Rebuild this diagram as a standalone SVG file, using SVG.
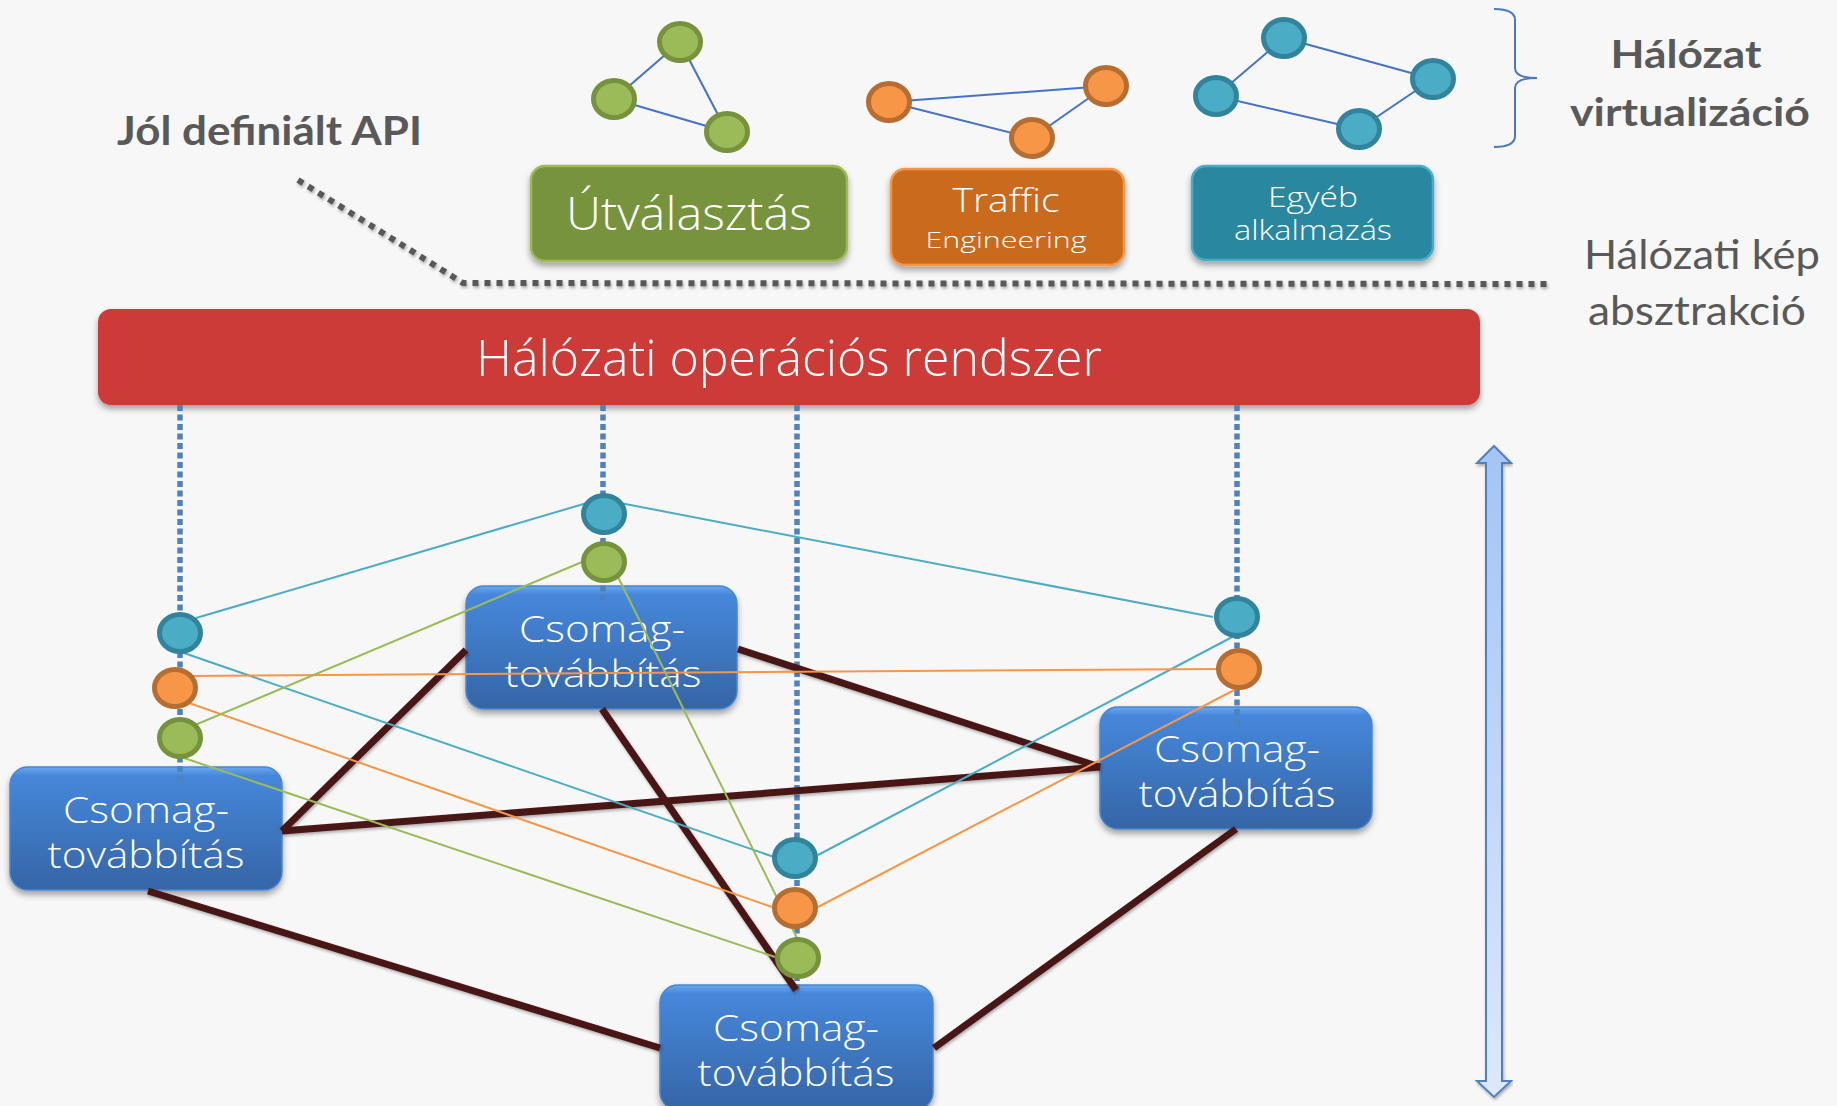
<svg xmlns="http://www.w3.org/2000/svg" width="1837" height="1106" viewBox="0 0 1837 1106">
<style>
.lbl{font-family:Lato,"Liberation Sans",sans-serif;fill:#595959}
.bt{font-family:"Open Sans","Liberation Sans",sans-serif;font-weight:300;fill:#ffffff;text-anchor:middle}
.mini{stroke:#4472c4;stroke-width:2;fill:none}
.vdot{stroke:#4f81bd;stroke-width:5.5;stroke-dasharray:6 3.5;fill:none}
.brown{stroke:#4a1719;stroke-width:7;fill:none}
.tl{stroke:#4bacc6;stroke-width:2;fill:none}
.ol{stroke:#f79646;stroke-width:2;fill:none}
.gl{stroke:#9bbb59;stroke-width:2;fill:none}
.nt{fill:#4bacc6;stroke:#31849b;stroke-width:5}
.no{fill:#f79646;stroke:#b66d31;stroke-width:5}
.ng{fill:#9bbb59;stroke:#76923c;stroke-width:5}
.csomag{fill:url(#blueGrad);stroke:#4a86d0;stroke-width:1.5}
</style>
<defs>
<filter id="sh" x="-10%" y="-10%" width="120%" height="130%">
<feDropShadow dx="0" dy="4" stdDeviation="3" flood-color="#000" flood-opacity="0.35"/>
</filter>
<filter id="sh2" x="-5%" y="-5%" width="110%" height="120%">
<feDropShadow dx="1" dy="2" stdDeviation="1.5" flood-color="#000" flood-opacity="0.3"/>
</filter>
<linearGradient id="blueGrad" x1="0" y1="0" x2="0" y2="1">
<stop offset="0" stop-color="#6aa8f0"/>
<stop offset="0.07" stop-color="#4687da"/>
<stop offset="1" stop-color="#3565a6"/>
</linearGradient>
<linearGradient id="arrGrad" x1="0" y1="0" x2="0" y2="1">
<stop offset="0" stop-color="#a3c4f5"/>
<stop offset="1" stop-color="#dde8fb"/>
</linearGradient>
</defs>
<rect width="1837" height="1106" fill="#f7f7f7"/>

<!-- top app mini graphs -->
<g id="graph-routing">
<line class="mini" x1="680" y1="42" x2="614" y2="99"/>
<line class="mini" x1="680" y1="42" x2="727" y2="132"/>
<line class="mini" x1="614" y1="99" x2="727" y2="132"/>
<ellipse class="ng" cx="680" cy="42" rx="20.5" ry="18.5"/>
<ellipse class="ng" cx="614" cy="99" rx="20.5" ry="18.5"/>
<ellipse class="ng" cx="727" cy="132" rx="20.5" ry="18.5"/>
</g>
<g id="graph-te">
<line class="mini" x1="889" y1="102" x2="1106" y2="86"/>
<line class="mini" x1="889" y1="102" x2="1032" y2="138"/>
<line class="mini" x1="1032" y1="138" x2="1106" y2="86"/>
<ellipse class="no" cx="889" cy="102" rx="20.5" ry="18.5"/>
<ellipse class="no" cx="1106" cy="86" rx="20.5" ry="18.5"/>
<ellipse class="no" cx="1032" cy="138" rx="20.5" ry="18.5"/>
</g>
<g id="graph-other">
<line class="mini" x1="1284" y1="38" x2="1433" y2="79"/>
<line class="mini" x1="1284" y1="38" x2="1216" y2="96"/>
<line class="mini" x1="1216" y1="96" x2="1359" y2="129"/>
<line class="mini" x1="1359" y1="129" x2="1433" y2="79"/>
<ellipse class="nt" cx="1284" cy="38" rx="20.5" ry="18.5"/>
<ellipse class="nt" cx="1216" cy="96" rx="20.5" ry="18.5"/>
<ellipse class="nt" cx="1433" cy="79" rx="20.5" ry="18.5"/>
<ellipse class="nt" cx="1359" cy="129" rx="20.5" ry="18.5"/>
</g>

<!-- brace and labels -->
<g id="brace">
<path d="M1494,9 Q1515,9 1515,20 L1515,68 Q1515,78 1537,78 Q1515,78 1515,88 L1515,136 Q1515,147 1494,147" fill="none" stroke="#4a78c2" stroke-width="2"/>
</g>
<g id="label-virt">
<text class="lbl" x="1686" y="68" font-size="39" font-weight="bold" text-anchor="middle" textLength="151" lengthAdjust="spacingAndGlyphs">Hálózat</text>
<text class="lbl" x="1690" y="126" font-size="39" font-weight="bold" text-anchor="middle" textLength="240" lengthAdjust="spacingAndGlyphs">virtualizáció</text>
</g>
<g id="label-api">
<text class="lbl" x="117" y="145" font-size="40" font-weight="bold" textLength="305" lengthAdjust="spacingAndGlyphs">Jól definiált API</text>
</g>
<g id="label-abstr">
<text class="lbl" x="1702" y="269" font-size="41" text-anchor="middle" textLength="236" lengthAdjust="spacingAndGlyphs">Hálózati kép</text>
<text class="lbl" x="1697" y="325" font-size="41" text-anchor="middle" textLength="218" lengthAdjust="spacingAndGlyphs">absztrakció</text>
</g>

<!-- API dotted line -->
<g id="api-line">
<path d="M298,180 L463,283 L1552,284" fill="none" stroke="#595959" stroke-width="6" stroke-dasharray="6 6" filter="url(#sh2)"/>
</g>

<!-- app boxes -->
<g id="app-routing">
<rect x="531" y="166" width="316" height="95" rx="14" fill="#77933c" stroke="#9bbb59" stroke-width="2.5" filter="url(#sh)"/>
<text class="bt" x="689" y="230" font-size="46" textLength="246" lengthAdjust="spacingAndGlyphs">Útválasztás</text>
</g>
<g id="app-te">
<rect x="891" y="169" width="233" height="96" rx="14" fill="#ca6a1d" stroke="#f79646" stroke-width="2.5" filter="url(#sh)"/>
<text class="bt" x="1006" y="212" font-size="33" textLength="107" lengthAdjust="spacingAndGlyphs">Traffic</text>
<text class="bt" x="1006" y="248" font-size="22" textLength="161" lengthAdjust="spacingAndGlyphs">Engineering</text>
</g>
<g id="app-other">
<rect x="1192" y="166" width="241" height="94" rx="14" fill="#2987a0" stroke="#4bacc6" stroke-width="2.5" filter="url(#sh)"/>
<text class="bt" x="1313" y="207" font-size="27" textLength="90" lengthAdjust="spacingAndGlyphs">Egyéb</text>
<text class="bt" x="1313" y="240" font-size="27" textLength="158" lengthAdjust="spacingAndGlyphs">alkalmazás</text>
</g>

<!-- NOS -->
<g id="nos">
<rect x="98" y="309" width="1382" height="96" rx="13" fill="#cc3b38" filter="url(#sh)"/>
<text class="bt" x="789" y="376" font-size="50" textLength="626" lengthAdjust="spacingAndGlyphs">Hálózati operációs rendszer</text>
</g>

<!-- double arrow -->
<g id="scale-arrow">
<path d="M1494,446 L1511,463 L1502,463 L1502,1081 L1511,1081 L1494,1097 L1477,1081 L1486,1081 L1486,463 L1477,463 Z" fill="url(#arrGrad)" stroke="#4f81bd" stroke-width="2" filter="url(#sh2)"/>
</g>

<!-- forwarding boxes -->
<g id="fwd-a">
<rect class="csomag" x="466" y="586" width="271" height="123" rx="18" filter="url(#sh)"/>
<text class="bt" x="602" y="642" font-size="36" textLength="166" lengthAdjust="spacingAndGlyphs">Csomag-</text>
<text class="bt" x="603" y="687" font-size="36" textLength="197" lengthAdjust="spacingAndGlyphs">továbbítás</text>
</g>
<g id="fwd-b">
<rect class="csomag" x="10" y="767" width="272" height="123" rx="18" filter="url(#sh)"/>
<text class="bt" x="146" y="823" font-size="36" textLength="166" lengthAdjust="spacingAndGlyphs">Csomag-</text>
<text class="bt" x="146" y="868" font-size="36" textLength="197" lengthAdjust="spacingAndGlyphs">továbbítás</text>
</g>
<g id="fwd-c">
<rect class="csomag" x="1100" y="707" width="272" height="122" rx="18" filter="url(#sh)"/>
<text class="bt" x="1237" y="762" font-size="36" textLength="166" lengthAdjust="spacingAndGlyphs">Csomag-</text>
<text class="bt" x="1237" y="807" font-size="36" textLength="197" lengthAdjust="spacingAndGlyphs">továbbítás</text>
</g>
<g id="fwd-d">
<rect class="csomag" x="660" y="985" width="273" height="125" rx="18" filter="url(#sh)"/>
<text class="bt" x="796" y="1041" font-size="36" textLength="166" lengthAdjust="spacingAndGlyphs">Csomag-</text>
<text class="bt" x="796" y="1086" font-size="36" textLength="197" lengthAdjust="spacingAndGlyphs">továbbítás</text>
</g>

<!-- connectors -->
<g id="connectors">
<g id="control-links">
<line class="vdot" x1="180" y1="405" x2="180" y2="783"/>
<line class="vdot" x1="603" y1="405" x2="603" y2="600"/>
<line class="vdot" x1="797" y1="405" x2="797" y2="995"/>
<line class="vdot" x1="1237" y1="405" x2="1237" y2="725"/>
</g>
<g id="physical-links" filter="url(#sh2)">
<line class="brown" x1="282" y1="831" x2="1100" y2="767"/>
<line class="brown" x1="282" y1="831" x2="466" y2="650"/>
<line class="brown" x1="738" y1="649" x2="1100" y2="767"/>
<line class="brown" x1="602" y1="709" x2="796" y2="990"/>
<line class="brown" x1="148" y1="891" x2="660" y2="1048"/>
<line class="brown" x1="1236" y1="829" x2="934" y2="1048"/>
</g>
<g id="virtual-links">
<line class="tl" x1="587" y1="503" x2="196" y2="618"/>
<line class="tl" x1="620" y1="503" x2="1213" y2="617"/>
<line class="tl" x1="181" y1="652" x2="774" y2="857"/>
<line class="tl" x1="1236" y1="635" x2="818" y2="855"/>
<line class="ol" x1="189" y1="676" x2="1218" y2="669"/>
<line class="ol" x1="189" y1="703" x2="772" y2="907"/>
<line class="ol" x1="1240" y1="687" x2="818" y2="907"/>
<line class="gl" x1="582" y1="562" x2="195" y2="725"/>
<line class="gl" x1="617" y1="575" x2="798" y2="940"/>
<line class="gl" x1="181" y1="757" x2="775" y2="957"/>
</g>
</g>

<!-- virtual nodes on switches -->
<g id="vnodes-b">
<ellipse class="nt" cx="180" cy="633" rx="20.5" ry="18.5"/>
<ellipse class="no" cx="175" cy="688" rx="20.5" ry="18.5"/>
<ellipse class="ng" cx="180" cy="738" rx="20.5" ry="18.5"/>
</g>
<g id="vnodes-a">
<ellipse class="nt" cx="604" cy="514" rx="20.5" ry="18.5"/>
<ellipse class="ng" cx="604" cy="562" rx="20.5" ry="18.5"/>
</g>
<g id="vnodes-d">
<ellipse class="nt" cx="795" cy="858" rx="20.5" ry="18.5"/>
<ellipse class="no" cx="795" cy="908" rx="20.5" ry="18.5"/>
<ellipse class="ng" cx="798" cy="958" rx="20.5" ry="18.5"/>
</g>
<g id="vnodes-c">
<ellipse class="nt" cx="1237" cy="617" rx="20.5" ry="18.5"/>
<ellipse class="no" cx="1239" cy="669" rx="20.5" ry="18.5"/>
</g>
</svg>
